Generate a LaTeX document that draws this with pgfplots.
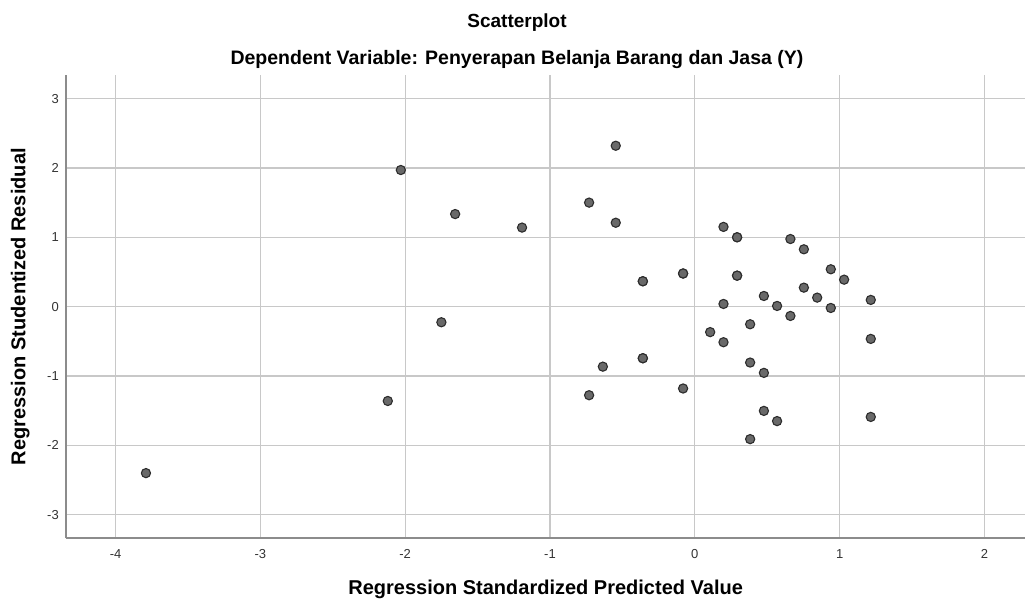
\documentclass[border=0pt]{standalone}
\usepackage{fontspec}
\setmainfont{Liberation Sans}
\usepackage{pgfplots}
\pgfplotsset{compat=1.18}
\definecolor{gridgray}{RGB}{200,200,200}
\definecolor{axisgray}{RGB}{140,140,140}
\definecolor{dotfill}{RGB}{105,105,105}
\definecolor{dotedge}{RGB}{45,45,45}

\begin{document}
\begin{tikzpicture}[x=1pt,y=1pt]
\path[use as bounding box] (0,0) rectangle (1025,-601);
\node[anchor=base, font=\bfseries\fontsize{19}{22}\selectfont] at (517,-28) {Scatterplot};
\node[anchor=base, font=\bfseries\fontsize{19.5}{22}\selectfont] at (517,-65) {Dependent Variable: Penyerapan Belanja Barang dan Jasa (Y)};
\begin{axis}[
    at={(66.3pt,-538.3pt)}, anchor=south west,
    scale only axis,
    width=958.7pt, height=463.3pt,
    xmin=-4.34, xmax=2.28,
    ymin=-3.34, ymax=3.34,
    axis x line*=bottom, axis y line*=left,
    axis line style={axisgray, line width=1.8pt, -},
    xtick={-4,-3,-2,-1,0,1,2},
    ytick={-3,-2,-1,0,1,2,3},
    major tick length=0pt,
    grid=major,
    major grid style={gridgray, line width=1.2pt},
    /pgf/number format/assume math mode=true,
    tick label style={font=\fontsize{13}{15}\selectfont, text=black!80},
    xticklabel style={yshift=-8pt},
    yticklabel style={xshift=-4pt},
    xlabel={Regression Standardized Predicted Value},
    ylabel={Regression Studentized Residual},
    label style={font=\bfseries\fontsize{20}{22}\selectfont},
    xlabel style={at={(axis description cs:0.5,0)}, anchor=base, yshift=-56pt},
    ylabel style={at={(axis description cs:0,0.5)}, anchor=base, rotate=0, yshift=41pt},
]
\addplot[only marks, mark=*, mark size=4.6pt,
    mark options={fill=dotfill, draw=dotedge, line width=1.1pt}]
coordinates {
(-3.79,-2.40) (-2.12,-1.36) (-2.03,1.97) (-1.75,-0.225) (-1.655,1.335)
(-1.193,1.14) (-0.73,1.50) (-0.73,-1.277) (-0.635,-0.865) (-0.546,2.32)
(-0.546,1.21) (-0.359,0.366) (-0.359,-0.744) (-0.081,0.478) (-0.081,-1.18)
(0.106,-0.367) (0.198,1.15) (0.198,0.039) (0.198,-0.513) (0.292,1.00)
(0.292,0.447) (0.382,-0.254) (0.382,-0.806) (0.382,-1.91) (0.477,0.154)
(0.477,-0.955) (0.477,-1.503) (0.568,0.01) (0.568,-1.65) (0.66,0.975)
(0.66,-0.134) (0.753,0.827) (0.753,0.274) (0.845,0.130) (0.939,0.539)
(0.939,-0.019) (1.031,0.389) (1.215,0.097) (1.215,-0.465) (1.215,-1.59)
(-0.359,0.366) (-0.359,-0.744) (0.292,1.00) (0.292,0.447) (-0.081,0.478)
};
\end{axis}
\end{tikzpicture}
\end{document}
